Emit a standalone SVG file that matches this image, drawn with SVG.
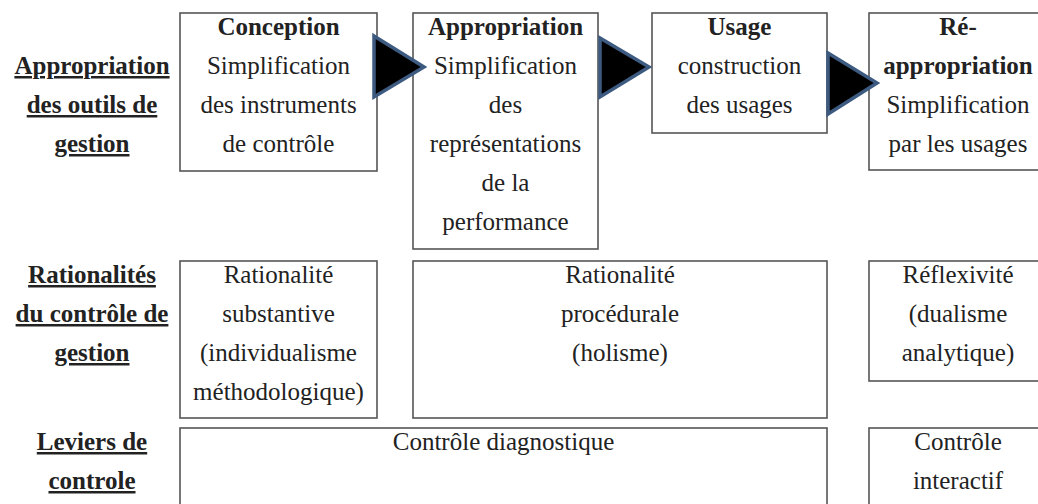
<svg xmlns="http://www.w3.org/2000/svg" width="1038" height="504" viewBox="0 0 1038 504">
<style>
  .box{fill:#fff;stroke:#555;stroke-width:1.6}
  .t{font-family:'Liberation Serif','DejaVu Serif',serif;font-size:25px;fill:#222;text-anchor:middle}
  .b{font-weight:bold}
  .u{font-weight:bold;text-decoration:underline}
  .arr{fill:#000;stroke:#3d5a80;stroke-width:3.5;stroke-linejoin:miter}
</style>
<rect width="1038" height="504" fill="#fff"/>
<g id="labels" font-family="Liberation Serif, DejaVu Serif, serif">
  <text class="t u" x="92" y="74">Appropriation</text>
  <text class="t u" x="92" y="113">des outils de</text>
  <text class="t u" x="92" y="152">gestion</text>
  <text class="t u" x="92" y="283">Rationalités</text>
  <text class="t u" x="92" y="322">du contrôle de</text>
  <text class="t u" x="92" y="361">gestion</text>
  <text class="t u" x="92" y="450">Leviers de</text>
  <text class="t u" x="92" y="489">controle</text>
</g>
<g id="conception">
  <rect class="box" x="180" y="13" width="197" height="158"/>
  <text class="t b" x="278.5" y="35">Conception</text>
  <text class="t" x="278.5" y="74">Simplification</text>
  <text class="t" x="278.5" y="113">des instruments</text>
  <text class="t" x="278.5" y="152">de contrôle</text>
</g>
<g id="appropriation">
  <rect class="box" x="413" y="13" width="185" height="236"/>
  <text class="t b" x="505.5" y="35">Appropriation</text>
  <text class="t" x="505.5" y="74">Simplification</text>
  <text class="t" x="505.5" y="113">des</text>
  <text class="t" x="505.5" y="152">représentations</text>
  <text class="t" x="505.5" y="191">de la</text>
  <text class="t" x="505.5" y="230">performance</text>
</g>
<g id="usage">
  <rect class="box" x="652" y="13" width="175" height="120"/>
  <text class="t b" x="739.5" y="35">Usage</text>
  <text class="t" x="739.5" y="74">construction</text>
  <text class="t" x="739.5" y="113">des usages</text>
</g>
<g id="reappropriation">
  <rect class="box" x="869" y="13" width="180" height="157"/>
  <text class="t b" x="958" y="35">Ré-</text>
  <text class="t b" x="958" y="74">appropriation</text>
  <text class="t" x="958" y="113">Simplification</text>
  <text class="t" x="958" y="152">par les usages</text>
</g>
<g id="substantive">
  <rect class="box" x="180" y="261" width="197" height="157"/>
  <text class="t" x="278.5" y="283">Rationalité</text>
  <text class="t" x="278.5" y="322">substantive</text>
  <text class="t" x="278.5" y="361">(individualisme</text>
  <text class="t" x="278.5" y="400">méthodologique)</text>
</g>
<g id="procedurale">
  <rect class="box" x="413" y="261" width="414" height="157"/>
  <text class="t" x="620" y="283">Rationalité</text>
  <text class="t" x="620" y="322">procédurale</text>
  <text class="t" x="620" y="361">(holisme)</text>
</g>
<g id="reflexivite">
  <rect class="box" x="869" y="261" width="180" height="120"/>
  <text class="t" x="958" y="283">Réflexivité</text>
  <text class="t" x="958" y="322">(dualisme</text>
  <text class="t" x="958" y="361">analytique)</text>
</g>
<g id="diagnostique">
  <rect class="box" x="180" y="428" width="647" height="100"/>
  <text class="t" x="503.5" y="450">Contrôle diagnostique</text>
</g>
<g id="interactif">
  <rect class="box" x="869" y="428" width="180" height="100"/>
  <text class="t" x="958" y="450">Contrôle</text>
  <text class="t" x="958" y="489">interactif</text>
</g>
<g id="connectors">
  <polygon class="arr" points="374,36 424,67 374,97"/>
  <polygon class="arr" points="600,38 649,67 600,97"/>
  <polygon class="arr" points="828,53 877,83 828,114"/>
</g>
</svg>
